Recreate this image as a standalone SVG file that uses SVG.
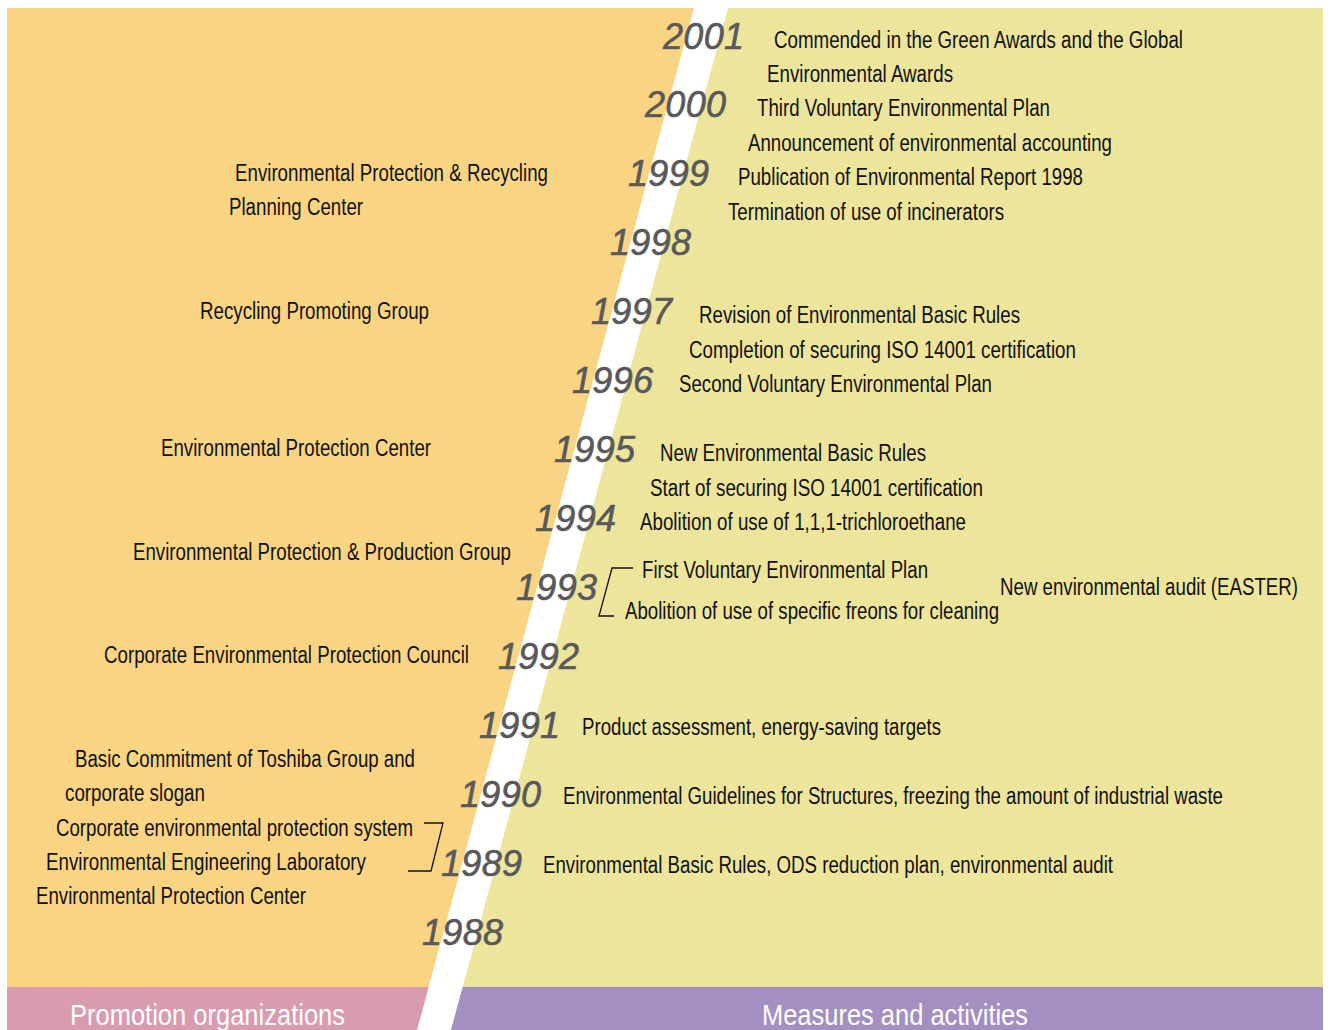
<svg xmlns="http://www.w3.org/2000/svg" width="1330" height="1030" viewBox="0 0 1330 1030">
<style>
.t{font-family:"Liberation Sans",Arial,sans-serif;font-size:23px;fill:#111}
.y{font-family:"Liberation Sans",Arial,sans-serif;font-style:italic;font-size:36px;fill:#59595b;stroke:#59595b;stroke-width:0.6;letter-spacing:0.3px}
.b{font-family:"Liberation Sans",Arial,sans-serif;font-size:30px;fill:#fff}
.br{fill:none;stroke:#111;stroke-width:1.3}
</style>
<rect x="0" y="0" width="1330" height="1030" fill="#fff"/>
<g id="panels">
<polygon points="7,8 694,8 417,1030 7,1030" fill="#f9d583"/>
<polygon points="728,8 1323,8 1323,1030 451,1030" fill="#ede59b"/>
<polygon points="7,987 428.7,987 417,1030 7,1030" fill="#d99bae"/>
<polygon points="462.7,987 1323,987 1323,1030 451,1030" fill="#a38fc1"/>
</g>
<g id="labels">
<text class="b" x="70" y="1025" textLength="275" lengthAdjust="spacingAndGlyphs">Promotion organizations</text>
<text class="b" x="762" y="1025" textLength="266" lengthAdjust="spacingAndGlyphs">Measures and activities</text>
</g>
<g id="years">
<text class="y" x="663" y="49">2001</text>
<text class="y" x="645" y="117">2000</text>
<text class="y" x="628" y="186">1999</text>
<text class="y" x="610" y="255">1998</text>
<text class="y" x="591" y="324">1997</text>
<text class="y" x="572" y="393">1996</text>
<text class="y" x="554" y="462">1995</text>
<text class="y" x="535" y="531">1994</text>
<text class="y" x="516" y="600">1993</text>
<text class="y" x="498" y="669">1992</text>
<text class="y" x="479" y="738">1991</text>
<text class="y" x="460" y="807">1990</text>
<text class="y" x="441" y="876">1989</text>
<text class="y" x="422" y="945">1988</text>
</g>
<g id="measures">
<text class="t" x="774" y="48" textLength="409" lengthAdjust="spacingAndGlyphs">Commended in the Green Awards and the Global</text>
<text class="t" x="767" y="82" textLength="186" lengthAdjust="spacingAndGlyphs">Environmental Awards</text>
<text class="t" x="757" y="116" textLength="293" lengthAdjust="spacingAndGlyphs">Third Voluntary Environmental Plan</text>
<text class="t" x="748" y="151" textLength="364" lengthAdjust="spacingAndGlyphs">Announcement of environmental accounting</text>
<text class="t" x="738" y="185" textLength="345" lengthAdjust="spacingAndGlyphs">Publication of Environmental Report 1998</text>
<text class="t" x="728" y="220" textLength="276" lengthAdjust="spacingAndGlyphs">Termination of use of incinerators</text>
<text class="t" x="699" y="323" textLength="321" lengthAdjust="spacingAndGlyphs">Revision of Environmental Basic Rules</text>
<text class="t" x="689" y="358" textLength="387" lengthAdjust="spacingAndGlyphs">Completion of securing ISO 14001 certification</text>
<text class="t" x="679" y="392" textLength="313" lengthAdjust="spacingAndGlyphs">Second Voluntary Environmental Plan</text>
<text class="t" x="660" y="461" textLength="266" lengthAdjust="spacingAndGlyphs">New Environmental Basic Rules</text>
<text class="t" x="650" y="496" textLength="333" lengthAdjust="spacingAndGlyphs">Start of securing ISO 14001 certification</text>
<text class="t" x="640" y="530" textLength="326" lengthAdjust="spacingAndGlyphs">Abolition of use of 1,1,1-trichloroethane</text>
<text class="t" x="642" y="578" textLength="286" lengthAdjust="spacingAndGlyphs">First Voluntary Environmental Plan</text>
<text class="t" x="625" y="619" textLength="374" lengthAdjust="spacingAndGlyphs">Abolition of use of specific freons for cleaning</text>
<text class="t" x="1000" y="595" textLength="298" lengthAdjust="spacingAndGlyphs">New environmental audit (EASTER)</text>
<text class="t" x="582" y="735" textLength="359" lengthAdjust="spacingAndGlyphs">Product assessment, energy-saving targets</text>
<text class="t" x="563" y="804" textLength="660" lengthAdjust="spacingAndGlyphs">Environmental Guidelines for Structures, freezing the amount of industrial waste</text>
<text class="t" x="543" y="873" textLength="570" lengthAdjust="spacingAndGlyphs">Environmental Basic Rules, ODS reduction plan, environmental audit</text>
</g>
<g id="organizations">
<text class="t" x="235" y="181" textLength="313" lengthAdjust="spacingAndGlyphs">Environmental Protection &amp; Recycling</text>
<text class="t" x="229" y="215" textLength="134" lengthAdjust="spacingAndGlyphs">Planning Center</text>
<text class="t" x="200" y="319" textLength="229" lengthAdjust="spacingAndGlyphs">Recycling Promoting Group</text>
<text class="t" x="161" y="456" textLength="270" lengthAdjust="spacingAndGlyphs">Environmental Protection Center</text>
<text class="t" x="133" y="560" textLength="378" lengthAdjust="spacingAndGlyphs">Environmental Protection &amp; Production Group</text>
<text class="t" x="104" y="663" textLength="365" lengthAdjust="spacingAndGlyphs">Corporate Environmental Protection Council</text>
<text class="t" x="75" y="767" textLength="340" lengthAdjust="spacingAndGlyphs">Basic Commitment of Toshiba Group and</text>
<text class="t" x="65" y="801" textLength="140" lengthAdjust="spacingAndGlyphs">corporate slogan</text>
<text class="t" x="56" y="836" textLength="357" lengthAdjust="spacingAndGlyphs">Corporate environmental protection system</text>
<text class="t" x="46" y="870" textLength="320" lengthAdjust="spacingAndGlyphs">Environmental Engineering Laboratory</text>
<text class="t" x="36" y="904" textLength="270" lengthAdjust="spacingAndGlyphs">Environmental Protection Center</text>
</g>
<g id="connectors">
<polyline class="br" points="633,568 612,568 599,616 614,616"/>
<polyline class="br" points="424,823 443,823 431,871 408,871"/>
</g>
</svg>
